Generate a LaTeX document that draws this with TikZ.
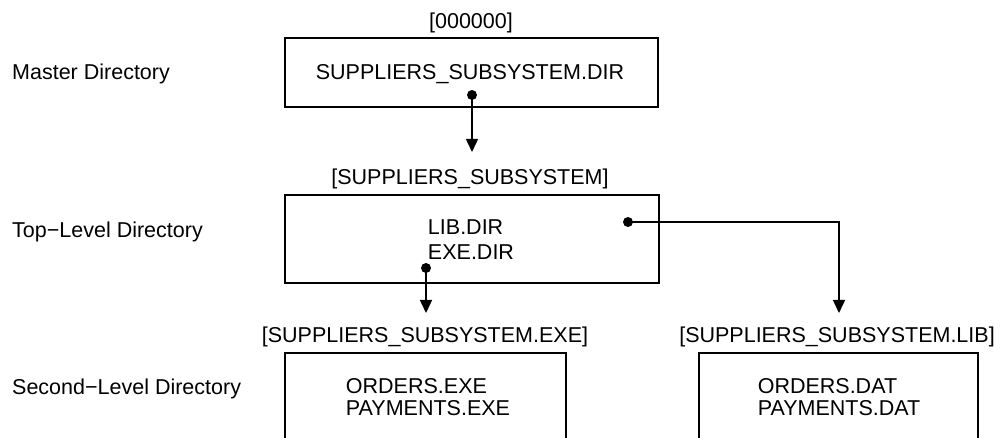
\documentclass[tikz,border=0pt]{standalone}
\usepackage{fontspec}
\setmainfont{Liberation Sans}
\usetikzlibrary{arrows.meta}
\tikzset{
  box/.style={draw, line width=1.5pt, inner sep=0pt, minimum width=#1, minimum height=88pt},
  txt/.style={inner sep=0pt, font=\fontsize{21.5}{25}\selectfont},
  txtb/.style={inner sep=0pt, font=\fontsize{21.5}{22.5}\selectfont},
  dotnode/.style={circle, fill=black, inner sep=0pt, minimum size=10pt},
  conn/.style={line width=1.5pt, -{Triangle[length=13pt,width=12pt]}},
}
\begin{document}
\begin{tikzpicture}[x=1pt,y=-1pt]
\useasboundingbox (0,0) rectangle (1005,438);
\clip (0,0) rectangle (1005,438);
% level labels
\node[txt, anchor=base west] (mlab) at (12,80) {Master Directory};
\node[txt, anchor=base west] (tlab) at (12,238) {Top−Level Directory};
\node[txt, anchor=base west] (slab) at (12,395) {Second−Level Directory};
% master
\node[box=373pt, minimum height=69pt] (b1) at (471.5,72.5) {};
\node[txt, anchor=base] (b1lab) at (471,29) {[000000]};
\node[txt, anchor=base] (b1txt) at (470,80) {SUPPLIERS\_SUBSYSTEM.DIR};
% top level
\node[box=374pt] (b2) at (472,239) {};
\node[txt, anchor=base] (b2lab) at (470,185) {[SUPPLIERS\_SUBSYSTEM]};
\node[txt, align=left] (b2txt) at (471,239.5) {LIB.DIR\\EXE.DIR};
% second level
\node[box=281pt] (b3) at (425.5,397) {};
\node[txt, anchor=base] (b3lab) at (425,343) {[SUPPLIERS\_SUBSYSTEM.EXE]};
\node[txtb, align=left] (b3txt) at (428,397) {ORDERS.EXE\\PAYMENTS.EXE};
\node[box=279pt] (b4) at (838.5,397) {};
\node[txt, anchor=base] (b4lab) at (837,343) {[SUPPLIERS\_SUBSYSTEM.LIB]};
\node[txtb, align=left] (b4txt) at (839,397) {ORDERS.DAT\\PAYMENTS.DAT};
% dots and ends
\node[dotnode] (d1) at (472,95) {};
\node[dotnode] (d2) at (628,222) {};
\node[dotnode] (d3) at (426,268) {};
\coordinate (e1) at (472,152);
\coordinate (e2) at (839,313);
\coordinate (e3) at (426,313);
% connectors
\draw[conn] (d1.center) -- (e1);
\draw[conn] (d3.center) -- (e3);
\draw[conn] (d2.center) -| (e2);
\end{tikzpicture}
\end{document}
